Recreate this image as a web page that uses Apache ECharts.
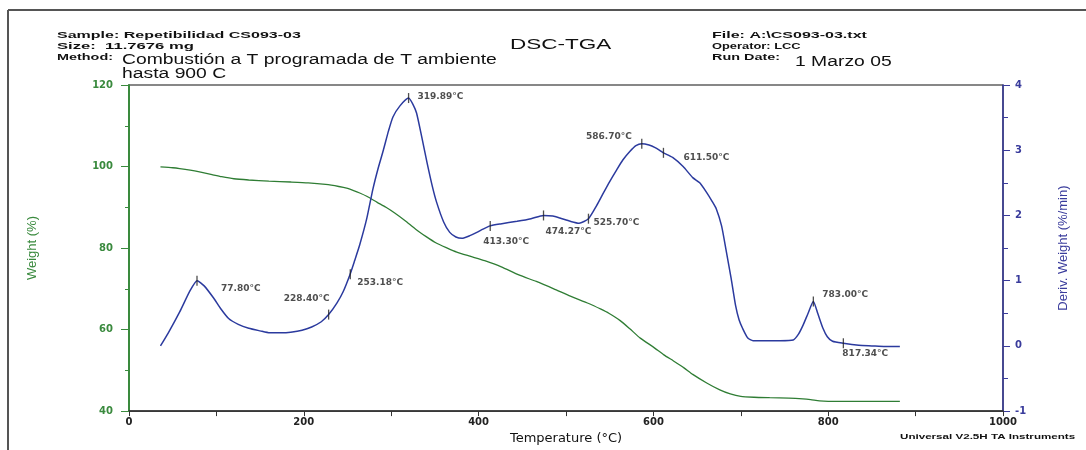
<!DOCTYPE html>
<html><head><meta charset="utf-8">
<script src="https://cdn.jsdelivr.net/npm/echarts@6/dist/echarts.min.js"></script>
<style>html,body{margin:0;padding:0;background:#fff}#c{width:1086px;height:450px}</style>
</head><body><div id="c"></div>
<script>
// ---- data ----
const tgaTemp   = [36,50,58,70,82,95,106,120,137,160,185,205,225,240,249,257,264,272,284,294,304,316,328,340,351,363,375,390,407,426,446,466,486,505,526,540,549,562,573,585,600,612,623,635,645,661,676,688,700,715,733,755,771,780,790,800,840,882];
const tgaWeight = [99.9,99.7,99.5,99.1,98.6,98.0,97.5,97.0,96.7,96.4,96.2,96.0,95.6,95.1,94.7,94.1,93.5,92.7,91.2,90.0,88.6,86.7,84.6,82.8,81.3,80.1,79.0,78.0,76.9,75.4,73.4,71.8,70.0,68.2,66.4,65.0,64.0,62.2,60.2,57.9,55.7,53.8,52.3,50.6,49.0,46.9,45.2,44.2,43.6,43.4,43.3,43.2,43.0,42.8,42.5,42.4,42.4,42.4];

const dtgTemp  = [36,45,58,70,78,86,97,105,114,125,137,150,161,175,185,198,209,220,228.4,238,245,253,258,264,272,279,285,291,297,302,310,319.9,325,329,335,341,347,352,360,367,374,381,390,398,405,413.3,425,444,460,474.3,485,493,505,515,525.7,535,543,550,558,565,573,580,586.7,595,602,608,611.5,622,634,645,653,661,667,672,678,683,689,694,698,702,708,714,730,745,760,766,771,777,783,788,794,799,805,817.3,835,850,865,882];
const dtgDeriv = [0.00,0.20,0.52,0.85,1.00,0.92,0.73,0.57,0.42,0.33,0.27,0.23,0.20,0.20,0.21,0.24,0.29,0.37,0.48,0.66,0.83,1.10,1.30,1.55,1.95,2.40,2.72,3.00,3.30,3.51,3.68,3.80,3.70,3.57,3.20,2.81,2.45,2.20,1.90,1.74,1.67,1.65,1.69,1.74,1.79,1.84,1.87,1.91,1.95,2.00,1.99,1.96,1.91,1.88,1.95,2.15,2.35,2.52,2.70,2.85,2.98,3.07,3.10,3.08,3.04,2.99,2.96,2.89,2.75,2.58,2.50,2.35,2.22,2.10,1.84,1.48,1.03,0.62,0.40,0.27,0.12,0.08,0.08,0.08,0.09,0.18,0.31,0.50,0.68,0.50,0.27,0.14,0.07,0.04,0.01,0.00,-0.01,-0.01];

const peakTemp  = [77.80,228.40,253.18,319.89,413.30,474.27,525.70,586.70,611.50,783.00,817.34];
const peakDeriv = [1.00,0.48,1.10,3.80,1.84,2.00,1.95,3.10,2.96,0.68,0.04];

const xTickLabels = ['0','200','400','600','800','1000'];

// ---- layout (not data) ----
const peakLabelLayout = [
  {offset:[24,8],align:'left'},{offset:[1,-16],align:'right'},{offset:[7,9],align:'left'},
  {offset:[9,-1],align:'left'},{offset:[-7,16],align:'left'},{offset:[2,16],align:'left'},
  {offset:[5,4],align:'left'},{offset:[-10,-7],align:'right'},{offset:[20,5],align:'left'},
  {offset:[9,-7],align:'left'},{offset:[-1,10],align:'left'}
];

const GREEN = '#3a8a3e', GREEN_LINE = '#2f7d34', BLUE = '#3a3c9c', BLUE_LINE = '#2b3a9e';
const chart = echarts.init(document.getElementById('c'), null, {renderer:'canvas'});

function hdr(x, y, text, font, sx, color) {
  return {type:'text', x:x, y:y, scaleX:sx, originX:0, originY:0,
    style:{text:text, font:font, fill:color||'#111', verticalAlign:'middle', align:'left'}};
}
const smallB = 'bold 9px "Liberation Sans"';
const big = '14px "Liberation Sans"';

const option = {
  animation:false,
  backgroundColor:'#fff',
  grid:{left:129, right:83, top:85, bottom:37, show:true, borderColor:'#111', borderWidth:1.2},
  xAxis:{
    type:'value', min:0, max:1000, interval:200,
    name:'Temperature (°C)', nameLocation:'middle', nameGap:18,
    nameTextStyle:{fontFamily:'DejaVu Sans', fontSize:13, color:'#111'},
    axisLine:{show:true, onZero:false, lineStyle:{color:'#333', width:1.5}},
    axisTick:{show:true, length:5, lineStyle:{color:'#333'}},
    minorTick:{show:true, splitNumber:2, length:5, lineStyle:{color:'#333'}},
    axisLabel:{margin:6, fontFamily:'DejaVu Sans', fontWeight:'bold', fontSize:10, color:'#222',
      formatter:function(v){ return xTickLabels[Math.round(v/200)]; }},
    splitLine:{show:false}
  },
  yAxis:[{
    type:'value', min:40, max:120, interval:20, position:'left',
    name:'Weight (%)', nameLocation:'middle', nameGap:90, nameRotate:90,
    nameTextStyle:{fontFamily:'Liberation Sans', fontSize:13, color:GREEN},
    axisLine:{show:true, onZero:false, lineStyle:{color:GREEN, width:2}},
    axisTick:{show:true, length:8, lineStyle:{color:GREEN}},
    minorTick:{show:true, splitNumber:2, length:4, lineStyle:{color:GREEN}},
    axisLabel:{margin:16, fontFamily:'DejaVu Sans', fontWeight:'bold', fontSize:10, color:GREEN},
    splitLine:{show:false}
  },{
    type:'value', min:-1, max:4, interval:1, position:'right',
    name:'Deriv. Weight (%/min)', nameLocation:'middle', nameGap:54, nameRotate:90,
    nameTextStyle:{fontFamily:'Liberation Sans', fontSize:13, color:BLUE},
    axisLine:{show:true, onZero:false, lineStyle:{color:BLUE, width:1.5}},
    axisTick:{show:true, length:7, lineStyle:{color:BLUE}},
    minorTick:{show:true, splitNumber:2, length:5, lineStyle:{color:BLUE}},
    axisLabel:{margin:12, fontFamily:'DejaVu Sans', fontWeight:'bold', fontSize:10, color:BLUE},
    splitLine:{show:false}
  }],
  series:[{
    type:'line', yAxisIndex:0, showSymbol:false, smooth:0.2,
    data:tgaTemp.map((t,i)=>[t,tgaWeight[i]]),
    lineStyle:{color:GREEN_LINE, width:1.3}, itemStyle:{color:GREEN_LINE}, z:2
  },{
    type:'line', yAxisIndex:1, showSymbol:false, smooth:0.2,
    data:dtgTemp.map((t,i)=>[t,dtgDeriv[i]]),
    lineStyle:{color:BLUE_LINE, width:1.5}, itemStyle:{color:BLUE_LINE}, z:3
  },{
    type:'scatter', yAxisIndex:1, symbol:'rect', symbolSize:[1.3,10], z:4,
    itemStyle:{color:'#222'},
    data:peakTemp.map((t,i)=>({
      value:[t,peakDeriv[i]],
      label:{show:true, position:'inside', offset:peakLabelLayout[i].offset,
        align:peakLabelLayout[i].align, verticalAlign:'middle'}
    })),
    label:{show:true, fontFamily:'DejaVu Sans', fontWeight:'bold', fontSize:9, color:'#222',
      formatter:function(p){ return p.value[0].toFixed(2) + '°C'; }}
  }],
  graphic:[
    {type:'line', shape:{x1:8,y1:10,x2:1086,y2:10}, style:{stroke:'#555', lineWidth:2}},
    {type:'line', shape:{x1:8,y1:10,x2:8,y2:450}, style:{stroke:'#555', lineWidth:2}},
    hdr(57,36,'Sample: Repetibilidad CS093-03',smallB,1.78),
    hdr(57,47,'Size:  11.7676 mg',smallB,1.85),
    hdr(57,58,'Method:',smallB,1.6),
    hdr(122,60,'Combustión a T programada de T ambiente',big,1.38),
    hdr(122,74,'hasta 900 C',big,1.38),
    hdr(510,45,'DSC-TGA','15px "Liberation Sans"',1.5),
    hdr(712,36,'File: A:\\CS093-03.txt',smallB,1.78),
    hdr(712,47,'Operator: LCC',smallB,1.43),
    hdr(712,58,'Run Date:',smallB,1.6),
    hdr(795,62,'1 Marzo 05',big,1.38),
    hdr(900,437,'Universal V2.5H TA Instruments','bold 8px "Liberation Sans"',1.45)
  ]
};
chart.setOption(option);
</script>
</body></html>
